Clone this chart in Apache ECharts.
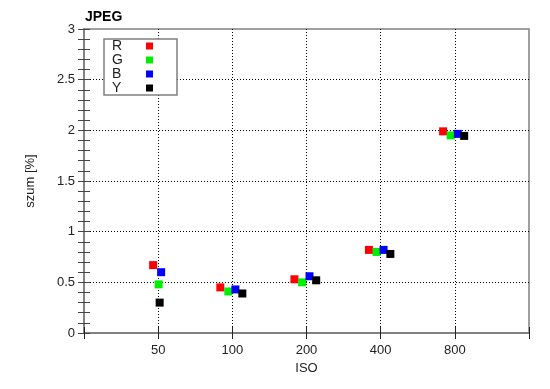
<!DOCTYPE html>
<html><head><meta charset="utf-8">
<script src="https://cdn.jsdelivr.net/npm/echarts@6/dist/echarts.min.js"></script>
<style>html,body{margin:0;padding:0;background:#fff}#c{width:550px;height:389px}</style>
</head><body><div id="c"></div>
<script>
// ISO values (actual measured, slightly offset) and noise [%]
var isoTicks = [50, 100, 200, 400, 800];
var isoR = [47.7, 89.4, 178.7, 358.5, 717];
var valR = [0.67, 0.45, 0.53, 0.82, 1.99];
var isoG = [50.2, 96.3, 192, 385, 770];
var valG = [0.48, 0.41, 0.50, 0.80, 1.95];
var isoB = [51.4, 102.9, 205.7, 411, 823];
var valB = [0.60, 0.43, 0.56, 0.82, 1.965];
var isoY = [50.7, 109.8, 219, 438, 873];
var valY = [0.30, 0.39, 0.52, 0.78, 1.945];
var names = ['R', 'G', 'B', 'Y'];
var colors = ['#ff0000', '#00ee00', '#0000ff', '#000000'];

var ISO_BASE = 25;
function lx(iso){ return Math.log2(iso / ISO_BASE); }
function pts(isos, vals){ return isos.map(function(x,i){ return [lx(x), vals[i]]; }); }

var FONT = 'Liberation Sans';
var frame = {color:'#808080', width:1.5};
var chart = echarts.init(document.getElementById('c'));
var allSeries = [[isoR,valR],[isoG,valG],[isoB,valB],[isoY,valY]].map(function(s,i){
  return {name:names[i], type:'scatter', symbol:'rect', symbolSize:8,
    itemStyle:{color:colors[i], opacity:1}, data:pts(s[0], s[1]), z:5};
});
var xBase = {type:'value', min:0, max:lx(1600), interval:1,
  axisLine:{show:true, lineStyle:frame},
  axisTick:{show:true, inside:true, length:6, lineStyle:{color:'#222', width:1}},
  minorTick:{show:false}};
var yBase = {type:'value', min:0, max:3, interval:0.5,
  axisLine:{show:true, lineStyle:frame},
  axisTick:{show:true, inside:true, length:6, lineStyle:{color:'#444', width:1}},
  minorTick:{show:true, splitNumber:5, length:6, lineStyle:{color:'#444', width:1}}};
chart.setOption({
  animation:false,
  backgroundColor:'#fff',
  title:{text:'JPEG', left:80, top:5, textStyle:{fontFamily:FONT, fontSize:14, fontWeight:'bold', color:'#000'}},
  grid:{left:84, right:21, top:29, bottom:56, show:true, borderColor:'#808080', borderWidth:1.5},
  legend:{orient:'vertical', left:104, top:39, align:'right', itemGap:0, itemWidth:7, itemHeight:7,
    icon:'rect', padding:[0,24,0,8], borderColor:'#808080', borderWidth:1.5, backgroundColor:'#fff',
    formatter:function(n){ return '{t|' + n + '}'; },
    textStyle:{fontFamily:FONT, fontSize:14, color:'#222', lineHeight:14,
      rich:{t:{fontFamily:FONT, fontSize:14, color:'#222', width:29, align:'left', lineHeight:14}}},
    data:names, z:10},
  xAxis:[
    Object.assign({}, xBase, {position:'bottom', name:'ISO', nameLocation:'middle', nameGap:27,
      nameTextStyle:{fontFamily:FONT, fontSize:13, color:'#222'},
      axisLabel:{fontFamily:FONT, fontSize:13, color:'#222', margin:11,
        formatter:function(v){ var iso = Math.round(ISO_BASE*Math.pow(2,v)); return isoTicks.indexOf(iso)>=0 ? String(iso) : ''; }},
      splitLine:{show:true, showMinLine:false, showMaxLine:false, lineStyle:{color:'#000', type:[1,2], width:1}}}),
    Object.assign({}, xBase, {position:'top', axisLabel:{show:false}, splitLine:{show:false}})
  ],
  yAxis:[
    Object.assign({}, yBase, {position:'left', name:'szum [%]', nameLocation:'middle', nameGap:47, nameRotate:90,
      nameTextStyle:{fontFamily:FONT, fontSize:13, color:'#222'},
      axisLabel:{fontFamily:FONT, fontSize:13, color:'#222', margin:9},
      splitLine:{show:true, showMinLine:false, showMaxLine:false, lineStyle:{color:'#000', type:[1,2], width:1}}}),
    Object.assign({}, yBase, {position:'right', axisLabel:{show:false}, splitLine:{show:false}})
  ],
  series: allSeries
});
</script></body></html>
